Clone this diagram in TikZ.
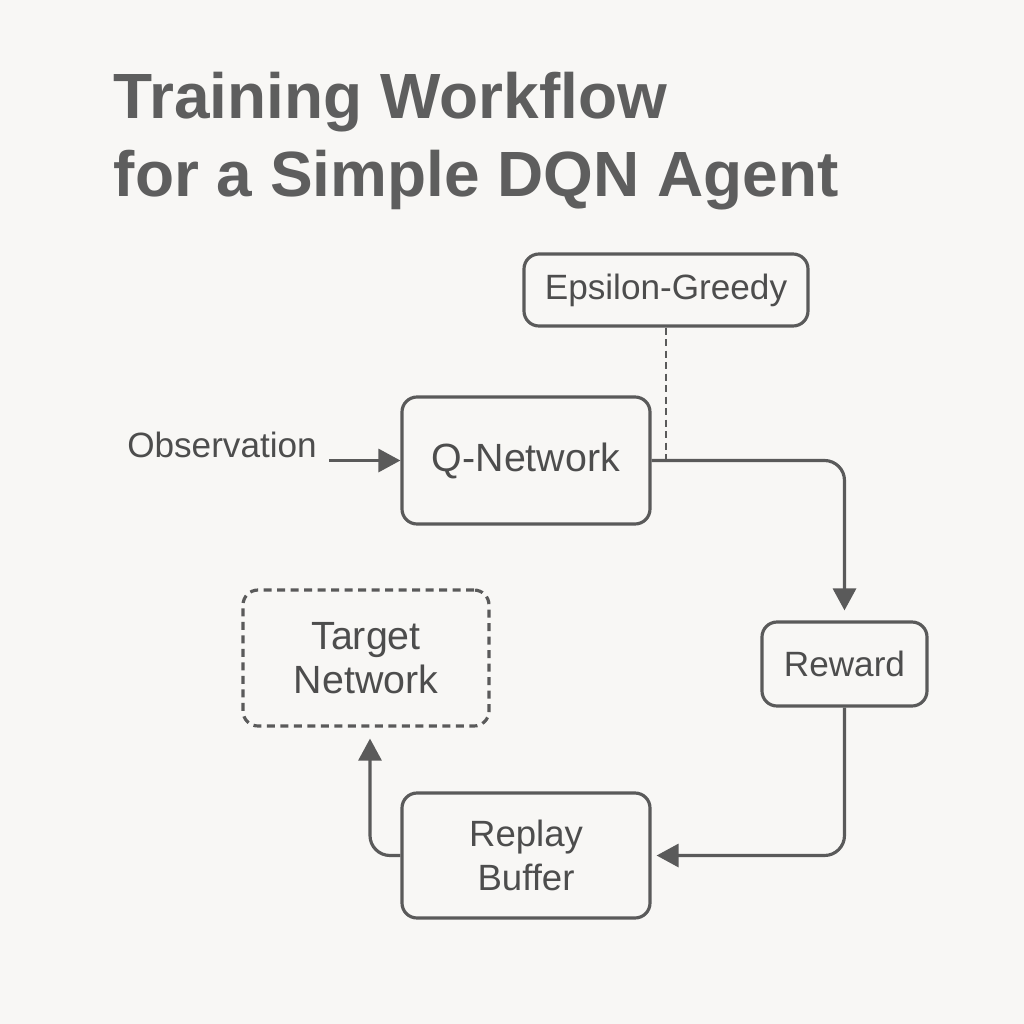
\documentclass[tikz,border=0pt]{standalone}
\usepackage{fontspec}
\setmainfont{Liberation Sans}
\usepackage{xcolor}
\usetikzlibrary{arrows.meta, positioning}
\definecolor{bgc}{HTML}{F8F7F5}
\definecolor{lnc}{HTML}{5A5A5A}
\definecolor{txc}{HTML}{4D4D4D}
\definecolor{ttc}{HTML}{5E5E5E}

\begin{document}
\begin{tikzpicture}[
    nd/.style={draw=lnc, line width=0.9pt, rounded corners=0.15cm, text=txc, font=\fontsize{10}{12.2}\selectfont, inner sep=0pt, align=center},
    dnd/.style={nd, dash pattern=on 0.08cm off 0.055cm},
    arr/.style={-{Triangle[length=0.22cm, width=0.23cm]}, draw=lnc, line width=0.9pt},
    ttl/.style={anchor=base west, inner sep=0pt, text=ttc, font=\fontsize{18.2}{22}\selectfont\bfseries},
]
    \fill[bgc] (0,0) rectangle (10.24,-10.24);
    \useasboundingbox (0,0) rectangle (10.24,-10.24);

    % title
    \node[ttl] (tt1) at (1.13,-1.18) {Training Workflow};
    \node[ttl] (tt2) at (1.13,-1.96) {for a Simple DQN Agent};

    % boxes
    \node[nd, minimum width=2.84cm, minimum height=0.72cm] (eg) at (6.66,-2.90) {Epsilon-Greedy};
    \node[nd, minimum width=2.48cm, minimum height=1.27cm, font=\fontsize{11.2}{13}\selectfont] (qn) at (5.26,-4.605) {Q-Network};
    \node[text=txc, font=\fontsize{10}{12}\selectfont, anchor=base] (ob) at (2.22,-4.57) {Observation};
    \node[dnd, minimum width=2.46cm, minimum height=1.36cm, font=\fontsize{11.2}{12.4}\selectfont] (tn) at (3.66,-6.58) {Target\\Network};
    \node[nd, minimum width=1.65cm, minimum height=0.84cm] (rw) at (8.445,-6.64) {Reward};
    \node[nd, minimum width=2.48cm, minimum height=1.25cm, font=\fontsize{10.4}{12.4}\selectfont] (rb) at (5.26,-8.555) {Replay\\Buffer};
    \coordinate (jn) at (eg.south |- qn.east);

    % connectors
    \draw[arr] (ob.east |- qn.west) -- (qn.west);
    \draw[arr, rounded corners=0.2cm, shorten >=0.1cm] (qn.east) -| (rw.north);
    \draw[draw=lnc, line width=0.7pt, dash pattern=on 0.07cm off 0.045cm] (eg.south) -- (jn);
    \draw[arr, rounded corners=0.2cm, shorten >=0.05cm] (rw.south) |- (rb.east);
    \draw[arr, rounded corners=0.2cm, shorten >=0.11cm] (rb.west) -| ([xshift=0.04cm]tn.south);
\end{tikzpicture}
\end{document}
